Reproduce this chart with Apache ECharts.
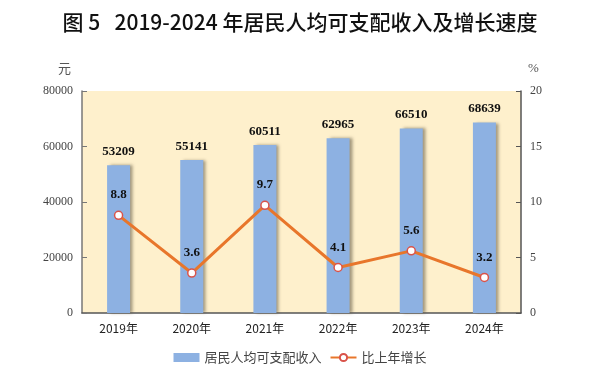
<!DOCTYPE html>
<html><head><meta charset="utf-8">
<script src="https://cdn.jsdelivr.net/npm/echarts@6/dist/echarts.min.js"></script>
<style>html,body{margin:0;padding:0;background:#fff}#c{width:600px;height:383px}</style>
</head><body><div id="c"></div>
<script>
const categories = ['2019年','2020年','2021年','2022年','2023年','2024年'];
const incomeValues = [53209, 55141, 60511, 62965, 66510, 68639];
const growthValues = [8.8, 3.6, 9.7, 4.1, 5.6, 3.2];
const leftTicks = [0, 20000, 40000, 60000, 80000];
const rightTicks = [0, 5, 10, 15, 20];
const barName = '居民人均可支配收入';
const lineName = '比上年增长';

const chart = echarts.init(document.getElementById('c'), null, {renderer:'canvas'});
const serif = '"Liberation Serif","DejaVu Serif",serif';
const cjk = '"Noto Sans CJK SC","Noto Sans",sans-serif';
chart.setOption({
  animation:false,
  title:{text:'图 5   2019-2024 年居民人均可支配收入及增长速度', left:'center', top:7,
    textStyle:{fontFamily:cjk, fontSize:21, fontWeight:500, color:'#111'}},
  graphic:[
    {type:'text', left:58, top:62, style:{text:'元', font:'13px '+cjk, fill:'#555'}},
    {type:'text', left:528, top:62, style:{text:'%', font:'13px '+serif, fill:'#555'}}
  ],
  legend:{bottom:14, left:'center', itemGap:8, itemWidth:26, itemHeight:9,
    textStyle:{fontFamily:cjk, fontSize:13, color:'#444'},
    data:[{name:barName, icon:'rect', itemStyle:{shadowBlur:0, shadowOffsetX:0, shadowColor:'transparent'}},{name:lineName}]},
  grid:{left:82, right:79, top:91, bottom:70, show:true, backgroundColor:'#FEF0CC', borderWidth:0},
  xAxis:{type:'category', data:categories,
    axisLine:{show:true, lineStyle:{color:'#555', width:1.5}},
    axisTick:{show:false},
    axisLabel:{fontFamily:cjk, fontSize:12, color:'#222', margin:9}},
  yAxis:[
    {type:'value', min:0, max:80000, interval:20000,
     axisLine:{show:true, lineStyle:{color:'#777', width:1.5}},
     axisTick:{show:true, inside:true, length:5, lineStyle:{color:'#777'}},
     splitLine:{show:false},
     axisLabel:{fontFamily:serif, fontSize:12, color:'#444', margin:9, formatter:function(v){return String(v);}}},
    {type:'value', min:0, max:20, interval:5, position:'right',
     axisLine:{show:true, lineStyle:{color:'#555', width:1.5}},
     axisTick:{show:true, inside:true, length:5, lineStyle:{color:'#555'}},
     splitLine:{show:false},
     axisLabel:{fontFamily:serif, fontSize:12, color:'#444', margin:9}}
  ],
  series:[
    {name:barName, type:'bar', data:incomeValues, barWidth:23, yAxisIndex:0,
     itemStyle:{color:'#8DB1E2', shadowColor:'rgba(90,80,60,0.55)', shadowOffsetX:3, shadowOffsetY:0, shadowBlur:3},
     label:{show:true, position:'top', distance:7, fontFamily:serif, fontWeight:'bold', fontSize:13, color:'#111'}},
    {name:lineName, type:'line', data:growthValues, yAxisIndex:1,
     symbol:'circle', symbolSize:8,
     lineStyle:{color:'#E8762B', width:3},
     itemStyle:{color:'#fff', borderColor:'#D9534A', borderWidth:1.5},
     label:{show:true, position:'top', distance:9, fontFamily:serif, fontWeight:'bold', fontSize:13, color:'#111'}}
  ]
});
</script></body></html>
